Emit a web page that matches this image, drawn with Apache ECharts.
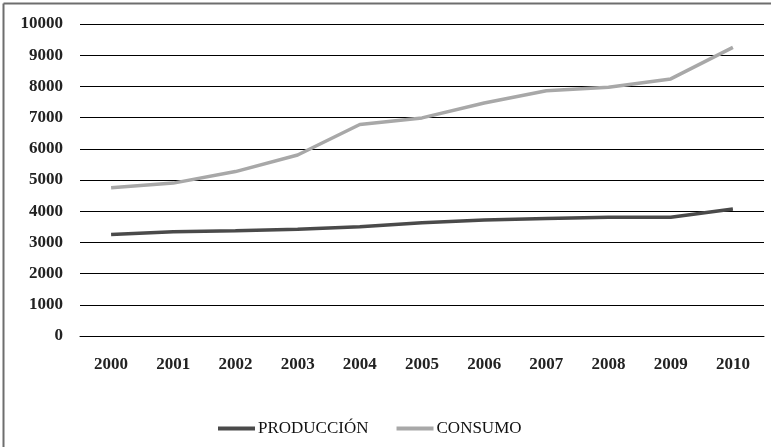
<!DOCTYPE html>
<html>
<head>
<meta charset="utf-8">
<script src="https://cdn.jsdelivr.net/npm/echarts@6/dist/echarts.min.js"></script>
<style>
html,body{margin:0;padding:0;background:#fff;}
#chart{width:771px;height:447px;}
</style>
</head>
<body>
<div id="chart"></div>
<script>
var years = ['2000','2001','2002','2003','2004','2005','2006','2007','2008','2009','2010'];
var produccion = [3250, 3340, 3375, 3420, 3500, 3630, 3720, 3770, 3810, 3805, 4070];
var consumo = [4750, 4900, 5270, 5800, 6780, 6990, 7470, 7860, 7970, 8240, 9250];
var yTicks = {min: 0, max: 10000, interval: 1000};

var font = '"Liberation Serif", "DejaVu Serif", serif';
var chart = echarts.init(document.getElementById('chart'), null, {renderer: 'canvas'});
chart.setOption({
  animation: false,
  backgroundColor: '#ffffff',
  graphic: [
    {type: 'line', shape: {x1: 3.5, y1: 3.5, x2: 3.5, y2: 447}, style: {stroke: '#6e6e6e', lineWidth: 2}},
    {type: 'line', shape: {x1: 3.5, y1: 3.5, x2: 771, y2: 3.5}, style: {stroke: '#6e6e6e', lineWidth: 2}}
  ],
  grid: {left: 80, right: 7, top: 24, bottom: 111, containLabel: false},
  legend: {
    top: 415,
    left: 213,
    itemWidth: 37,
    itemHeight: 4,
    itemGap: 28,
    icon: 'rect',
    textStyle: {fontFamily: font, fontSize: 17, color: '#111', padding: [0,0,0,-2]},
    data: ['PRODUCCIÓN', 'CONSUMO']
  },
  xAxis: {
    type: 'category',
    data: years,
    boundaryGap: true,
    axisLine: {show: true, lineStyle: {color: '#000', width: 1}},
    axisTick: {show: false},
    axisLabel: {fontFamily: font, fontSize: 17, fontWeight: 'bold', color: '#222', margin: 20}
  },
  yAxis: {
    type: 'value',
    min: yTicks.min,
    max: yTicks.max,
    interval: yTicks.interval,
    axisLine: {show: false},
    axisTick: {show: false},
    splitLine: {show: true, lineStyle: {color: '#000', width: 1}},
    axisLabel: {fontFamily: font, fontSize: 17, fontWeight: 'bold', color: '#222', margin: 17,
      formatter: function (v) { return String(v); }}
  },
  series: [
    {name: 'PRODUCCIÓN', type: 'line', data: produccion, symbol: 'none',
     lineStyle: {color: '#4a4a4a', width: 3.5}, itemStyle: {color: '#4a4a4a'}},
    {name: 'CONSUMO', type: 'line', data: consumo, symbol: 'none',
     lineStyle: {color: '#a8a8a8', width: 3.5}, itemStyle: {color: '#a8a8a8'}}
  ]
});
</script>
</body>
</html>
